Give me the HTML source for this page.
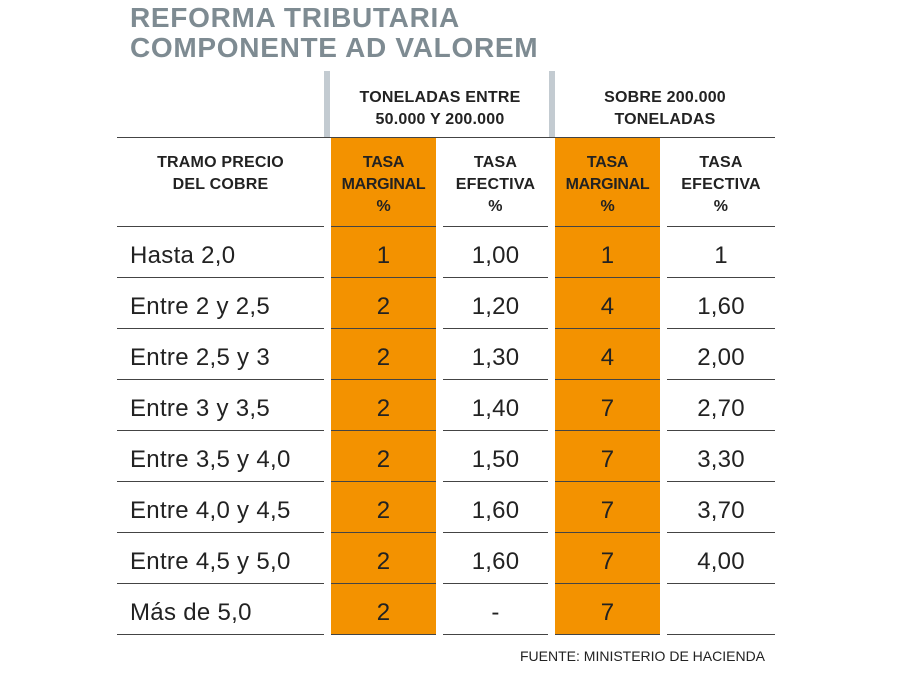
<!DOCTYPE html>
<html><head><meta charset="utf-8"><style>
body{margin:0;width:900px;height:673px;background:#fff;position:relative;overflow:hidden;font-family:"Liberation Sans",sans-serif;color:#222}
.a{position:absolute}
.t{left:130px;color:#7e8b92;font-weight:bold;font-size:28px;letter-spacing:0.7px;line-height:30px}
.o{background:#f39200;top:137px;height:497px}
.g{background:#c3cbd1;top:71px;height:66px;width:6px}
.h{height:1px;background:#444}
.hd{font-weight:bold;font-size:16px;letter-spacing:0.2px;line-height:22px;text-align:center}
.c{font-size:24px;letter-spacing:0.2px;text-align:center;line-height:51px;padding-top:4px}
.l{font-size:24px;letter-spacing:0.3px;left:130px;line-height:51px;padding-top:4px}
</style></head><body>
<div class="a t" style="top:3px">REFORMA TRIBUTARIA</div>
<div class="a t" style="top:33px">COMPONENTE AD VALOREM</div>
<div class="a g" style="left:324px"></div>
<div class="a g" style="left:549px"></div>
<div class="a o" style="left:331px;width:105px"></div>
<div class="a o" style="left:555px;width:105px"></div>
<div class="a h" style="top:137px;left:117px;width:658px"></div>
<div class="a hd" style="left:330px;width:220px;top:87px">TONELADAS ENTRE<br>50.000 Y 200.000</div>
<div class="a hd" style="left:555px;width:220px;top:87px">SOBRE 200.000<br>TONELADAS</div>
<div class="a hd" style="left:117px;width:207px;top:152px">TRAMO PRECIO<br>DEL COBRE</div>
<div class="a hd" style="left:331px;width:105px;top:152px;letter-spacing:-0.3px">TASA<br>MARGINAL<br>%</div>
<div class="a hd" style="left:443px;width:105px;top:152px">TASA<br>EFECTIVA<br>%</div>
<div class="a hd" style="left:555px;width:105px;top:152px;letter-spacing:-0.3px">TASA<br>MARGINAL<br>%</div>
<div class="a hd" style="left:667px;width:108px;top:152px">TASA<br>EFECTIVA<br>%</div>
<div id="rows"></div>
<div class="a" style="left:520px;top:648px;font-size:14px;color:#222">FUENTE: MINISTERIO DE HACIENDA</div>
<script>
var d=[["Hasta 2,0","1","1,00","1","1"],["Entre 2 y 2,5","2","1,20","4","1,60"],["Entre 2,5 y 3","2","1,30","4","2,00"],["Entre 3 y 3,5","2","1,40","7","2,70"],["Entre 3,5 y 4,0","2","1,50","7","3,30"],["Entre 4,0 y 4,5","2","1,60","7","3,70"],["Entre 4,5 y 5,0","2","1,60","7","4,00"],["Más de 5,0","2","-","7",""]];
var h="";var segs=[[117,207],[331,105],[443,105],[555,105],[667,108]];
for(var k=0;k<=8;k++){var y=226+k*51;segs.forEach(function(s){h+='<div class="a h" style="top:'+y+'px;left:'+s[0]+'px;width:'+s[1]+'px"></div>'});}
d.forEach(function(r,i){var y=226+i*51;h+='<div class="a l" style="top:'+y+'px">'+r[0]+'</div>';
for(var j=1;j<5;j++){h+='<div class="a c" style="top:'+y+'px;left:'+segs[j][0]+'px;width:'+segs[j][1]+'px">'+r[j]+'</div>';}});
document.getElementById("rows").outerHTML=h;
</script>
</body></html>
